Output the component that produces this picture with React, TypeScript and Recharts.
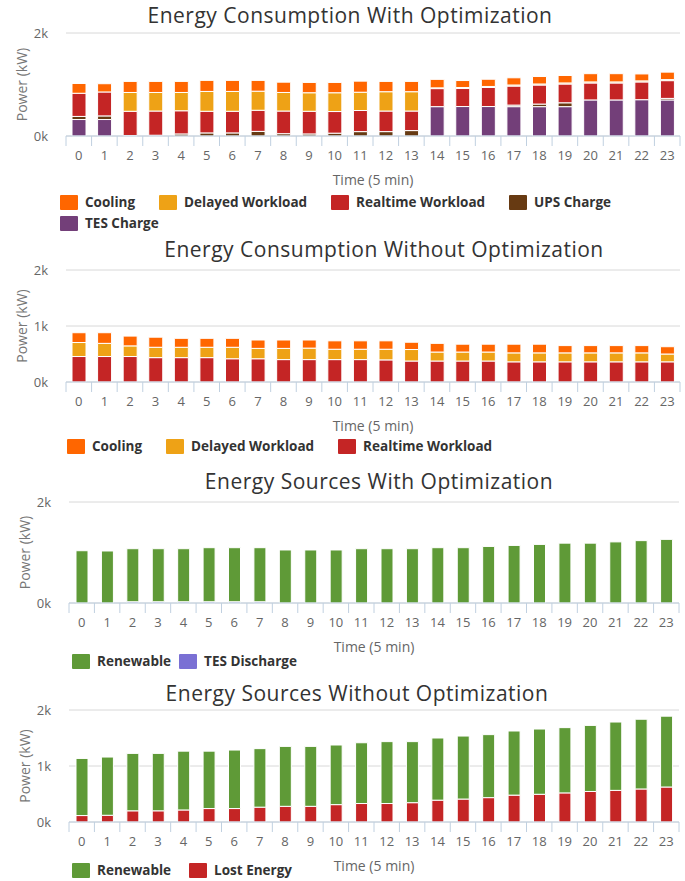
import React from 'react';
import { BarChart, Bar, XAxis, YAxis, CartesianGrid } from 'recharts';

// x categories (5 minute slots)
const TIME = ['0', '1', '2', '3', '4', '5', '6', '7', '8', '9', '10', '11', '12', '13', '14', '15', '16', '17', '18', '19', '20', '21', '22', '23'];

// Energy consumption with optimization (kW)
const OPT_COOLING = [190, 160, 215, 215, 215, 215, 215, 210, 200, 200, 200, 215, 200, 200, 165, 135, 140, 140, 145, 145, 160, 160, 135, 145];
const OPT_DELAYED = [0, 0, 365, 360, 355, 385, 385, 370, 360, 360, 365, 355, 375, 375, 15, 20, 20, 20, 20, 20, 20, 20, 20, 20];
const OPT_REALTIME = [450, 465, 470, 470, 450, 420, 420, 410, 440, 440, 420, 410, 400, 380, 350, 350, 370, 370, 370, 365, 330, 330, 345, 345];
const OPT_UPS = [60, 70, 10, 15, 40, 60, 60, 90, 45, 40, 55, 85, 85, 105, 0, 0, 0, 30, 50, 75, 0, 0, 0, 30];
const OPT_TES_CHARGE = [320, 320, 0, 0, 0, 0, 0, 0, 0, 0, 0, 0, 0, 0, 570, 572, 572, 570, 570, 570, 700, 700, 705, 700];

// Energy consumption without optimization (kW)
const BASE_COOLING = [175, 190, 175, 180, 160, 160, 160, 150, 150, 145, 150, 150, 150, 130, 155, 140, 140, 155, 155, 130, 130, 130, 130, 130];
const BASE_DELAYED = [250, 235, 190, 185, 185, 185, 205, 185, 200, 205, 185, 185, 190, 205, 160, 160, 160, 160, 160, 160, 160, 160, 160, 140];
const BASE_REALTIME = [455, 455, 455, 435, 435, 435, 415, 415, 400, 400, 400, 400, 395, 375, 375, 375, 375, 360, 360, 360, 360, 360, 360, 360];

// Energy sources with optimization (kW)
const OPT_RENEWABLE = [1035, 1030, 1050, 1050, 1050, 1070, 1070, 1070, 1050, 1050, 1050, 1075, 1075, 1075, 1095, 1095, 1120, 1140, 1160, 1185, 1185, 1210, 1235, 1260];
const OPT_TES_DISCHARGE = [0, 0, 25, 25, 25, 25, 25, 25, 0, 0, 0, 0, 0, 0, 0, 0, 0, 0, 0, 0, 0, 0, 0, 0];

// Energy sources without optimization (kW)
const BASE_RENEWABLE = [1020, 1040, 1025, 1025, 1050, 1025, 1045, 1045, 1070, 1070, 1065, 1085, 1105, 1090, 1110, 1125, 1125, 1145, 1165, 1165, 1180, 1220, 1245, 1265];
const BASE_LOST = [115, 120, 200, 200, 215, 240, 240, 265, 280, 280, 310, 330, 330, 345, 390, 410, 435, 480, 495, 520, 545, 565, 590, 625];

const COLORS = {
  cooling: '#FF6600',
  delayed: '#EEA216',
  realtime: '#C42525',
  ups: '#673A12',
  tesCharge: '#733F79',
  renewable: '#5F9A37',
  tesDischarge: '#7A70D4',
  lost: '#C42525',
};

const FONT = '"Open Sans", "DejaVu Sans", sans-serif';
const WIDTH = 685;
const TOP_PAD = 10;
const AXIS_H = 60;

interface Series {
  key: string;
  name: string;
  color: string;
  values: number[];
}

interface PanelProps {
  title: string;
  titleCenter: number;
  titleY: number;
  plotTop: number;
  plotBottom: number;
  plotLeft: number;
  plotRight: number;
  barSize: number;
  yTicks: number[];
  legendLeft: number;
  legendY: number;
  legendGap: number;
  series: Series[]; // legend order, top of stack first
}

function buildRows(series: Series[]) {
  return TIME.map((t, i) => {
    const row: Record<string, string | number> = { t };
    series.forEach((s) => {
      row[s.key] = s.values[i];
    });
    return row;
  });
}

function TimeTick(props: any) {
  const { x, y, payload, index, band } = props;
  return (
    <g>
      <line x1={x - band / 2} x2={x - band / 2} y1={y} y2={y + 10} stroke="#C0D0E0" />
      {index === TIME.length - 1 && (
        <line x1={x + band / 2} x2={x + band / 2} y1={y} y2={y + 10} stroke="#C0D0E0" />
      )}
      <text x={x} y={y + 19} textAnchor="middle" dominantBaseline="central" fill="#666" fontSize={13} fontFamily={FONT}>
        {payload.value}
      </text>
    </g>
  );
}

function Panel(p: PanelProps) {
  const plotH = p.plotBottom - p.plotTop;
  const band = (p.plotRight - p.plotLeft) / TIME.length;
  const data = buildRows(p.series);
  const stackOrder = [...p.series].reverse();

  return (
    <>
      <div
        style={{
          position: 'absolute',
          left: p.titleCenter - 300,
          top: p.titleY - 15,
          width: 600,
          textAlign: 'center',
          fontSize: 21,
          letterSpacing: 0.5,
          lineHeight: '30px',
          color: '#333',
          whiteSpace: 'nowrap',
        }}
      >
        {p.title}
      </div>
      <div style={{ position: 'absolute', left: 0, top: p.plotTop - TOP_PAD }}>
        <BarChart
          width={WIDTH}
          height={TOP_PAD + plotH + AXIS_H}
          data={data}
          margin={{ top: TOP_PAD, right: WIDTH - p.plotRight, left: 0, bottom: 0 }}
          barSize={p.barSize}
        >
          <CartesianGrid vertical={false} stroke="#D8D8D8" />
          <XAxis
            dataKey="t"
            interval={0}
            height={AXIS_H}
            tickSize={0}
            tickMargin={0}
            tickLine={false}
            axisLine={{ stroke: '#C0D0E0' }}
            tick={(tp: any) => <TimeTick {...tp} band={band} />}
            label={{
              value: 'Time (5 min)',
              position: 'insideBottom',
              offset: 11,
              style: { fill: '#666', fontSize: 14, fontFamily: FONT },
            }}
          />
          <YAxis
            width={p.plotLeft}
            domain={[0, 2000]}
            ticks={p.yTicks}
            tickFormatter={(v: number) => `${v / 1000}k`}
            tickSize={0}
            tickMargin={18}
            tickLine={false}
            axisLine={false}
            tick={{ fill: '#666', fontSize: 13, fontFamily: FONT }}
            label={{
              value: 'Power (kW)',
              angle: -90,
              position: 'insideLeft',
              offset: p.plotLeft - 44,
              style: { textAnchor: 'middle', fill: '#777', fontSize: 14, fontFamily: FONT },
            }}
          />
          {stackOrder.map((s) => (
            <Bar
              key={s.key}
              dataKey={s.key}
              name={s.name}
              stackId="total"
              fill={s.color}
              stroke="#fff"
              strokeWidth={1}
              isAnimationActive={false}
            />
          ))}
        </BarChart>
      </div>
      <div
        style={{
          position: 'absolute',
          left: p.legendLeft,
          top: p.legendY - 10.5,
          width: 620,
          display: 'flex',
          flexWrap: 'wrap',
        }}
      >
        {p.series.map((s) => (
          <div key={s.key} style={{ display: 'flex', alignItems: 'center', height: 21, marginRight: p.legendGap }}>
            <div style={{ width: 18, height: 15, background: s.color, borderRadius: 1 }} />
            <span style={{ marginLeft: 7, fontSize: 13.5, fontWeight: 700, color: '#333' }}>{s.name}</span>
          </div>
        ))}
      </div>
    </>
  );
}

export default function App() {
  return (
    <div
      style={{
        position: 'fixed',
        left: 0,
        top: 0,
        width: WIDTH,
        height: 881,
        overflow: 'hidden',
        background: '#fff',
        fontFamily: FONT,
      }}
    >
      <Panel
        title="Energy Consumption With Optimization"
        titleCenter={350}
        titleY={15}
        plotTop={33}
        plotBottom={136}
        plotLeft={66}
        plotRight={680}
        barSize={14}
        yTicks={[0, 2000]}
        legendLeft={60}
        legendY={202}
        legendGap={24}
        series={[
          { key: 'cooling', name: 'Cooling', color: COLORS.cooling, values: OPT_COOLING },
          { key: 'delayed', name: 'Delayed Workload', color: COLORS.delayed, values: OPT_DELAYED },
          { key: 'realtime', name: 'Realtime Workload', color: COLORS.realtime, values: OPT_REALTIME },
          { key: 'ups', name: 'UPS Charge', color: COLORS.ups, values: OPT_UPS },
          { key: 'tes', name: 'TES Charge', color: COLORS.tesCharge, values: OPT_TES_CHARGE },
        ]}
      />
      <Panel
        title="Energy Consumption Without Optimization"
        titleCenter={384}
        titleY={249}
        plotTop={270}
        plotBottom={382}
        plotLeft={66}
        plotRight={680}
        barSize={14}
        yTicks={[0, 1000, 2000]}
        legendLeft={67}
        legendY={446}
        legendGap={24}
        series={[
          { key: 'cooling', name: 'Cooling', color: COLORS.cooling, values: BASE_COOLING },
          { key: 'delayed', name: 'Delayed Workload', color: COLORS.delayed, values: BASE_DELAYED },
          { key: 'realtime', name: 'Realtime Workload', color: COLORS.realtime, values: BASE_REALTIME },
        ]}
      />
      <Panel
        title="Energy Sources With Optimization"
        titleCenter={379}
        titleY={481}
        plotTop={502}
        plotBottom={603}
        plotLeft={69}
        plotRight={679}
        barSize={12}
        yTicks={[0, 2000]}
        legendLeft={72}
        legendY={661}
        legendGap={8}
        series={[
          { key: 'renewable', name: 'Renewable', color: COLORS.renewable, values: OPT_RENEWABLE },
          { key: 'tesDischarge', name: 'TES Discharge', color: COLORS.tesDischarge, values: OPT_TES_DISCHARGE },
        ]}
      />
      <Panel
        title="Energy Sources Without Optimization"
        titleCenter={357}
        titleY={693}
        plotTop={710}
        plotBottom={822}
        plotLeft={69}
        plotRight={679}
        barSize={12}
        yTicks={[0, 1000, 2000]}
        legendLeft={72}
        legendY={870}
        legendGap={18}
        series={[
          { key: 'renewable', name: 'Renewable', color: COLORS.renewable, values: BASE_RENEWABLE },
          { key: 'lost', name: 'Lost Energy', color: COLORS.lost, values: BASE_LOST },
        ]}
      />
    </div>
  );
}
